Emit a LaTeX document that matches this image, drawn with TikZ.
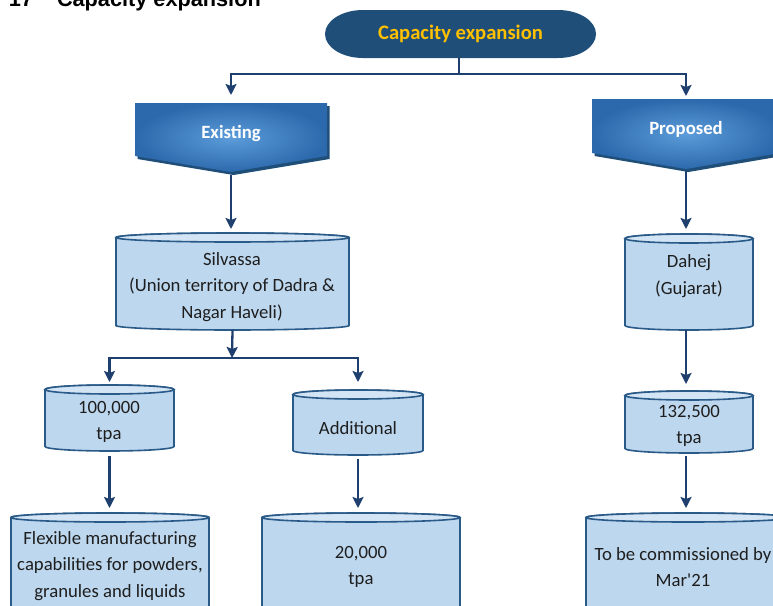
\documentclass[tikz,border=0pt]{standalone}
\usepackage{fontspec}
\setmainfont{Carlito}
\newfontfamily\hdfont{Liberation Sans}
\usetikzlibrary{arrows.meta,calc}
\pgfdeclarelayer{background}
\pgfsetlayers{background,main}
\definecolor{navy}{HTML}{1F4E79}
\definecolor{conn}{HTML}{1F3F6F}
\definecolor{cylbody}{HTML}{BDD7EE}
\definecolor{cyltop}{HTML}{D3E4F4}
\definecolor{cylline}{HTML}{2A5A88}
\definecolor{chevdark}{HTML}{2C69AC}
\definecolor{chevlight}{HTML}{5C9CDA}
\definecolor{gold}{HTML}{FFC000}
\definecolor{txtcol}{HTML}{1E1E1E}
\tikzset{
  box/.style={rectangle, draw=none, inner sep=0pt, outer sep=0pt},
  lbl/.style={box, align=center, font=\fontsize{18.7}{26.5}\selectfont, text=txtcol},
  chevtxt/.style={box, font=\bfseries\fontsize{18.7}{22}\selectfont, text=white},
  hdtxt/.style={box, anchor=base west, font=\hdfont\bfseries\fontsize{21.7}{24}\selectfont, text=black},
  conline/.style={draw=conn, line width=2.3pt},
  arr/.style={conline, -{Stealth[width=11pt,length=11pt,inset=2pt]}},
}
\newcommand\cylshape[1]{%
  \path[fill=cylbody, draw=cylline, line width=1.6pt]
    let \p1=(#1.north west), \p2=(#1.south east), \n1={(\x2-\x1)/2} in
    ([yshift=-4.5pt]#1.north west) -- ([yshift=4.5pt]#1.south west)
    arc[start angle=180, end angle=360, x radius=\n1, y radius=4.5pt]
    -- ([yshift=-4.5pt]#1.north east)
    arc[start angle=0, end angle=180, x radius=\n1, y radius=4.5pt] -- cycle;
  \path[fill=cyltop, draw=cylline, line width=1.6pt]
    let \p1=(#1.north west), \p2=(#1.south east), \n1={(\x2-\x1)/2} in
    ([yshift=-4.5pt]#1.north) ellipse[x radius=\n1, y radius=4.5pt];
}
\newcommand\chevshape[1]{%
  \fill[navy] ([shift={(2.5pt,-3pt)}]#1.north west) -- ([shift={(2.5pt,-3pt)}]#1.north east)
    -- ([shift={(2.5pt,-3pt)}]#1.south east) -- ([shift={(2.5pt,-19pt)}]#1.south)
    -- ([shift={(2.5pt,-3pt)}]#1.south west) -- cycle;
  \shade[inner color=chevlight, outer color=chevdark] (#1.north west) -- (#1.north east)
    -- (#1.south east) -- ([yshift=-16pt]#1.south) -- (#1.south west) -- cycle;
}
\begin{document}
\begin{tikzpicture}[x=1pt,y=-1pt]
\useasboundingbox (0,0) rectangle (773,605);

% clipped page heading
\node[hdtxt] (hdnum) at (9,6) {17};
\node[hdtxt] (hdtitle) at (57,6) {Capacity expansion};

% title
\node[box, minimum width=271pt, minimum height=48pt,
      font=\bfseries\fontsize{20.6}{24}\selectfont, text=gold] (title) at (460.5,34) {Capacity expansion};

% chevrons (shapes)
\node[box, minimum width=192pt, minimum height=53pt] (ex) at (231,129.5) {};
\node[box, minimum width=188pt, minimum height=54pt] (pr) at (686,126) {};

% cylinders (shapes)
\node[box, minimum width=233pt, minimum height=97pt] (silC) at (232.5,281.5) {};
\node[box, minimum width=128pt, minimum height=96pt] (dahC) at (689,282) {};
\node[box, minimum width=129pt, minimum height=66pt] (n100C) at (109.5,418) {};
\node[box, minimum width=130pt, minimum height=65pt] (addC) at (358,422.5) {};
\node[box, minimum width=128pt, minimum height=62pt] (n132C) at (689,422) {};
\node[box, minimum width=198pt, minimum height=137pt] (flexC) at (110,581.5) {};
\node[box, minimum width=198pt, minimum height=137pt] (n20C) at (361,581.5) {};
\node[box, minimum width=204pt, minimum height=137pt] (commC) at (688,581.5) {};

\begin{pgfonlayer}{background}
  \fill[navy] ([xshift=38pt]title.north west) -- ([xshift=-38pt]title.north east)
    arc[start angle=90, end angle=-90, x radius=38pt, y radius=24pt]
    -- ([xshift=38pt]title.south west)
    arc[start angle=270, end angle=90, x radius=38pt, y radius=24pt] -- cycle;
  \chevshape{ex}
  \chevshape{pr}
  \cylshape{silC}
  \cylshape{dahC}
  \cylshape{n100C}
  \cylshape{addC}
  \cylshape{n132C}
  \cylshape{flexC}
  \cylshape{n20C}
  \cylshape{commC}
\end{pgfonlayer}

% chevron texts
\node[chevtxt] (exT) at (231,134) {Existing};
\node[chevtxt] (prT) at (686,129.5) {Proposed};

% texts in cylinders
\node[lbl] (silT) at (232,287) {Silvassa\\(Union territory of Dadra \&\\Nagar Haveli)};
\node[lbl] (dahT) at (689,276) {Dahej\\(Gujarat)};
\node[lbl] (n100T) at (109,422) {100,000\\tpa};
\node[lbl] (addT) at (358,428) {Additional};
\node[lbl] (n132T) at (689,426) {132,500\\tpa};
\node[lbl] (flexT) at (110,566) {Flexible manufacturing\\capabilities for powders,\\granules and liquids};
\node[lbl] (n20T) at (361,567) {20,000\\tpa};
\node[lbl] (commT) at (683,567) {To be commissioned by\\Mar\textquotesingle21};

% connectors
\coordinate (j1) at (459,74);
\coordinate (split) at (232,358);
\coordinate (exTip) at ([yshift=-16pt]ex.south);
\coordinate (prTip) at ([yshift=-16pt]pr.south);
\draw[conline, line width=1.8pt] (j1 |- title.south) -- (j1);
\draw[arr, shorten >=8pt] (j1) -| (ex.north);
\draw[arr, shorten >=3pt] (j1) -| (pr.north);
\draw[arr, shorten <=3pt, shorten >=4pt] (exTip) -- (exTip |- silC.north);
\draw[arr] (silC.south) -- (split);
\draw[arr, shorten >=3pt] (split) -| (n100C.north);
\draw[arr, shorten >=8pt] (split) -| (addC.north);
\draw[arr, shorten <=5pt, shorten >=5pt] (n100C.south) -- (n100C.south |- flexC.north);
\draw[arr, shorten <=4pt, shorten >=5pt] (addC.south) -- (addC.south |- n20C.north);
\draw[arr, shorten <=2pt, shorten >=5pt] (prTip) -- (prTip |- dahC.north);
\draw[arr, shorten >=7pt] (prTip |- dahC.south) -- (prTip |- n132C.north);
\draw[arr, shorten <=3pt, shorten >=5pt] (prTip |- n132C.south) -- (prTip |- commC.north);
\end{tikzpicture}
\end{document}
